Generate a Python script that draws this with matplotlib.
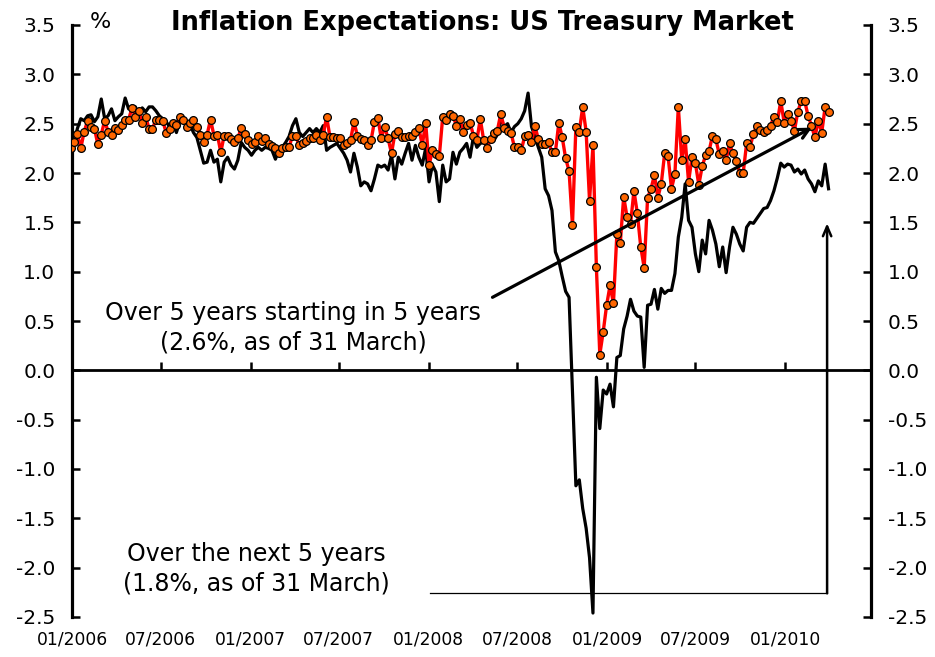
import matplotlib
matplotlib.use("Agg")
import matplotlib.pyplot as plt
import matplotlib.dates as mdates
import numpy as np
import pandas as pd

plt.rcParams['font.family'] = ['DejaVu Sans']
plt.rcParams['axes.unicode_minus'] = False

# ---------------- data (weekly, %) ----------------
last_date = "2010-03-31"

# 5-year forward inflation expectation, starting in 5 years (red with markers)
fwd_5y5y = [
    2.25,
    2.31, 2.40, 2.25, 2.42, 2.53, 2.47, 2.45, 2.29, 2.39, 2.53,
    2.42, 2.39, 2.46, 2.44, 2.49, 2.54, 2.54, 2.66, 2.57, 2.63,
    2.51, 2.57, 2.45, 2.45, 2.54, 2.54, 2.53, 2.41, 2.45, 2.51,
    2.49, 2.57, 2.54, 2.47, 2.51, 2.54, 2.47, 2.39, 2.31, 2.39,
    2.54, 2.38, 2.39, 2.21, 2.38, 2.38, 2.34, 2.31, 2.35,
    2.46, 2.40, 2.33, 2.29, 2.31, 2.37, 2.32, 2.35, 2.29, 2.27,
    2.25, 2.20, 2.25, 2.26, 2.26, 2.38, 2.37, 2.28, 2.30, 2.32,
    2.35, 2.35, 2.39, 2.33, 2.39, 2.57, 2.36, 2.36, 2.35, 2.35,
    2.28, 2.30, 2.33, 2.52, 2.38, 2.34, 2.33, 2.28, 2.33, 2.52,
    2.56, 2.35, 2.47, 2.35, 2.20, 2.40, 2.43, 2.36, 2.36,
    2.37, 2.37, 2.42, 2.46, 2.28, 2.51, 2.08, 2.23, 2.19, 2.17,
    2.57, 2.54, 2.60, 2.58, 2.48, 2.55, 2.42, 2.49, 2.51, 2.38,
    2.33, 2.55, 2.33, 2.25, 2.34, 2.41, 2.43, 2.60, 2.46, 2.43,
    2.41, 2.26, 2.26, 2.23, 2.37, 2.39, 2.31, 2.48, 2.34, 2.29,
    2.29, 2.31, 2.21, 2.21, 2.51, 2.36, 2.15, 2.02,
    1.47, 2.47, 2.42, 2.67, 2.42, 1.72, 2.28, 1.05, 0.16, 0.39,
    0.66, 0.86, 0.68, 1.38, 1.29, 1.76, 1.55, 1.48, 1.82, 1.59,
    1.25, 1.04, 1.75, 1.84, 1.98, 1.75, 1.89, 2.20, 2.17, 1.84,
    1.99, 2.67, 2.13, 2.34, 1.91, 2.16, 2.10, 1.88, 2.07, 2.18,
    2.22, 2.38, 2.34, 2.19, 2.22, 2.13, 2.30, 2.20, 2.12, 2.00,
    2.00, 2.30, 2.26, 2.40, 2.48, 2.44, 2.42, 2.44, 2.48, 2.57,
    2.52, 2.73, 2.51, 2.60, 2.53, 2.43, 2.62, 2.73, 2.73, 2.58,
    2.48, 2.36, 2.53, 2.41, 2.67, 2.62,
]

# inflation expectation over the next 5 years (black line)
next_5y = [
    2.18, 2.30, 2.45, 2.55, 2.53, 2.58, 2.59, 2.52, 2.57, 2.75,
    2.55, 2.58, 2.65, 2.53, 2.57, 2.60, 2.76, 2.65, 2.68, 2.67,
    2.58, 2.66, 2.62, 2.67, 2.67, 2.63, 2.58, 2.55, 2.52, 2.47,
    2.52, 2.41, 2.52, 2.53, 2.48, 2.49, 2.41, 2.36, 2.23, 2.10,
    2.11, 2.23, 2.11, 2.14, 1.91, 2.11, 2.16, 2.08, 2.04, 2.13,
    2.31, 2.26, 2.23, 2.18, 2.23, 2.26, 2.23, 2.26, 2.25, 2.23,
    2.14, 2.23, 2.26, 2.31, 2.37, 2.48, 2.55, 2.41, 2.37, 2.41,
    2.45, 2.41, 2.45, 2.41, 2.48, 2.23, 2.26, 2.28, 2.30, 2.25,
    2.20, 2.13, 2.01, 2.20, 2.06, 1.87, 1.91, 1.89, 1.82, 1.94,
    2.08, 2.06, 2.08, 2.03, 2.18, 1.94, 2.16, 2.09, 2.20,
    2.30, 2.13, 2.28, 2.16, 2.08, 2.25, 1.91, 2.08, 2.01, 1.71,
    2.08, 1.91, 1.94, 2.21, 2.09, 2.21, 2.25, 2.30, 2.16, 2.37,
    2.26, 2.30, 2.31, 2.28, 2.35, 2.33, 2.39, 2.55, 2.47, 2.50,
    2.41, 2.47, 2.50, 2.55, 2.63, 2.81, 2.47, 2.37, 2.26, 2.16,
    1.84, 1.77, 1.62, 1.20, 1.11, 0.95, 0.80, 0.74, -0.22, -1.17,
    -1.11, -1.40, -1.60, -1.90, -2.46, -0.07, -0.59, -0.20, -0.24, -0.14,
    -0.37, 0.13, 0.15, 0.42, 0.55, 0.72, 0.60, 0.55, 0.54, 0.03,
    0.66, 0.67, 0.82, 0.62, 0.83, 0.78, 0.81, 0.81, 0.98, 1.35,
    1.55, 1.89, 1.52, 1.45, 1.18, 1.00, 1.32, 1.18, 1.52, 1.42,
    1.28, 1.05, 1.25, 0.99, 1.25, 1.45, 1.38, 1.28, 1.21, 1.45,
    1.50, 1.49, 1.54, 1.59, 1.64, 1.65, 1.72, 1.82, 1.95, 2.10,
    2.06, 2.09, 2.08, 2.01, 2.04, 1.99, 2.03, 1.94, 1.89, 1.81,
    1.92, 1.87, 2.09, 1.84,
]

x_tick_labels = ["01/2006", "07/2006", "01/2007", "07/2007", "01/2008",
                 "07/2008", "01/2009", "07/2009", "01/2010"]
y_ticks = [-2.5, -2.0, -1.5, -1.0, -0.5, 0.0, 0.5, 1.0, 1.5, 2.0, 2.5, 3.0, 3.5]

title = "Inflation Expectations: US Treasury Market"
label_fwd = "Over 5 years starting in 5 years\n(2.6%, as of 31 March)"
label_next = "Over the next 5 years\n(1.8%, as of 31 March)"

# ---------------- figure ----------------
W, H = 935, 657
fig = plt.figure(figsize=(W / 100, H / 100), dpi=100)
ax = fig.add_axes([72 / W, 1 - 617 / H, (871 - 72) / W, (617 - 25) / H])

dates_fwd = pd.date_range(end=last_date, periods=len(fwd_5y5y), freq="7D")
dates_next = pd.date_range(end=last_date, periods=len(next_5y), freq="7D")

ax.plot(dates_next, next_5y, color="black", lw=2.3, zorder=3)
ax.plot(dates_fwd, fwd_5y5y, color="#ff0000", lw=2.4, zorder=4,
        marker="o", ms=5.6, mfc="#ff6600", mec="black", mew=0.9)

ymin, ymax = y_ticks[0], y_ticks[-1]
ax.set_ylim(ymin, ymax)
ax.set_xlim(pd.Timestamp("2005-12-31"), pd.Timestamp("2010-06-26"))

# y axes on both sides
ax.set_yticks(y_ticks)
ax.set_yticklabels([f"{v:.1f}" for v in y_ticks])
ax.tick_params(axis="y", which="both", direction="in", length=6, width=1.8,
               left=True, right=True, labelleft=True, labelright=True,
               labelsize=14.5, pad=12)
for s in ("left", "right"):
    ax.spines[s].set_linewidth(2.3)
for s in ("top", "bottom"):
    ax.spines[s].set_visible(False)

# x tick labels at the bottom, no marks
tick_dates = pd.to_datetime(x_tick_labels, format="%m/%Y")
ax.set_xticks(tick_dates)
ax.set_xticklabels(x_tick_labels)
ax.tick_params(axis="x", length=0, labelsize=12.3, pad=10)

# zero line carrying the x tick marks
zero_frac = (0 - ymin) / (ymax - ymin)
sec = ax.secondary_xaxis(zero_frac)
sec.set_xticks(mdates.date2num(tick_dates))
sec.tick_params(axis="x", direction="in", length=6, width=1.8, labelbottom=False)
sec.spines["bottom"].set_linewidth(2.0)

# title and unit
fig.text(482 / W, 1 - 23 / H, title, ha="center", va="center",
         fontsize=18.5, fontweight="bold")
fig.text(100 / W, 1 - 22 / H, "%", ha="center", va="center", fontsize=16)

# annotation: forward expectation
fig.text(293 / W, 1 - 328 / H, label_fwd, ha="center", va="center",
         fontsize=17, linespacing=1.3)
ax.annotate("", xy=(pd.Timestamp("2010-02-25"), 2.46),
            xytext=(pd.Timestamp("2008-05-11"), 0.74),
            arrowprops=dict(arrowstyle="->,head_length=0.7,head_width=0.35",
                            color="black", lw=2.3, shrinkA=0, shrinkB=0),
            zorder=6)

# annotation: next 5 years
fig.text(256 / W, 1 - 569 / H, label_next, ha="center", va="center",
         fontsize=17, linespacing=1.3)
ax.plot([pd.Timestamp("2008-01-03"), pd.Timestamp("2010-03-28")], [-2.26, -2.26],
        color="black", lw=0.9, zorder=5)
ax.annotate("", xy=(pd.Timestamp("2010-03-28"), 1.49),
            xytext=(pd.Timestamp("2010-03-28"), -2.26),
            arrowprops=dict(arrowstyle="->,head_length=0.7,head_width=0.3",
                            color="black", lw=1.8, shrinkA=0, shrinkB=0),
            zorder=6)

fig.savefig("out.png", dpi=100)
